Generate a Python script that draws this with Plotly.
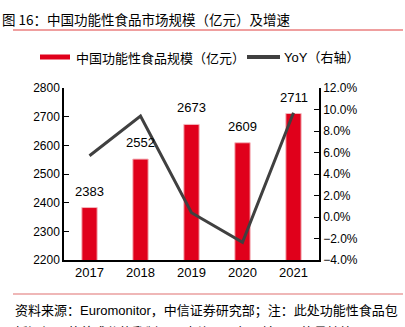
import plotly.graph_objects as go

years = ["2017", "2018", "2019", "2020", "2021"]
market_size = [2383, 2552, 2673, 2609, 2711]
yoy = [5.7, 9.4, 0.4, -2.35, 9.7]

title_text = "图 16：中国功能性食品市场规模（亿元）及增速"
legend_bar = "中国功能性食品规模（亿元）"
legend_line = "YoY（右轴）"
source_line1 = "资料来源：Euromonitor，中信证券研究部；注：此处功能性食品包"
source_line2 = "括添加了营养成分的乳制品、麦片、面包、糖果、能量棒等"

FONT = "Liberation Sans, Arial, Noto Sans CJK SC, sans-serif"
RED = "#E0001B"
GRAY = "#404040"

fig = go.Figure()
fig.add_trace(go.Bar(
    x=years, y=market_size, name=legend_bar,
    marker=dict(color=RED, line=dict(color="#F4B6BC", width=1)),
    width=0.3, yaxis="y",
))
fig.add_trace(go.Scatter(
    x=years, y=yoy, name=legend_line, mode="lines",
    line=dict(color=GRAY, width=3), yaxis="y2",
))

# bar value labels (x given as category index on the category axis)
for i, v in enumerate(market_size):
    fig.add_annotation(x=i, y=v, xref="x", yref="y", text=str(v),
                       showarrow=False, yanchor="bottom", yshift=7,
                       font=dict(size=13, color="#000", family=FONT))

fig.update_layout(
    width=405, height=327, autosize=False,
    margin=dict(l=64, r=86, t=88, b=67),
    paper_bgcolor="white", plot_bgcolor="white",
    showlegend=False,
    font=dict(family=FONT, size=12, color="#000"),
    bargap=0.7,
    xaxis=dict(type="category", showline=True, linecolor="#000", linewidth=1.5, ticks="",
               tickfont=dict(size=13), showgrid=False, zeroline=False),
    yaxis=dict(range=[2200, 2800], dtick=100, showline=True, linecolor="#000",
               linewidth=1.5, ticks="inside", ticklen=5, tickcolor="#000",
               showgrid=False, zeroline=False, tickfont=dict(size=12)),
    yaxis2=dict(range=[-4, 12], dtick=2, overlaying="y", side="right",
                showline=True, linecolor="#000", linewidth=1.5,
                ticks="inside", ticklen=5, tickcolor="#000",
                tickformat=".1f", ticksuffix="%", showgrid=False,
                zeroline=False, tickfont=dict(size=12)),
)

# title and separators
fig.add_annotation(text=title_text, xref="paper", yref="paper",
                   x=-64/255, y=1 + (88-19)/172, xanchor="left", yanchor="middle",
                   showarrow=False, font=dict(size=13.5, family="Noto Sans CJK SC, sans-serif", color="#000"))
fig.add_shape(type="line", xref="paper", yref="paper",
              x0=-51/255, x1=339/255, y0=1 + (88-30)/172, y1=1 + (88-30)/172,
              line=dict(color="#E04040", width=1.2))
fig.add_shape(type="line", xref="paper", yref="paper",
              x0=-51/255, x1=339/255, y0=-(294-260)/172, y1=-(294-260)/172,
              line=dict(color="#E07070", width=1.2))

# legend
ly = 1 + (88-57)/172
fig.add_shape(type="line", xref="paper", yref="paper",
              x0=(40-64)/255, x1=(70-64)/255, y0=ly, y1=ly,
              line=dict(color=RED, width=5))
fig.add_annotation(text=legend_bar, xref="paper", yref="paper",
                   x=(74-64)/255, y=ly, xanchor="left", yanchor="middle",
                   showarrow=False, font=dict(size=13, family="Noto Sans CJK SC, sans-serif"))
fig.add_shape(type="line", xref="paper", yref="paper",
              x0=(247-64)/255, x1=(280-64)/255, y0=ly, y1=ly,
              line=dict(color=GRAY, width=4))
fig.add_annotation(text=legend_line, xref="paper", yref="paper",
                   x=(282-64)/255, y=ly, xanchor="left", yanchor="middle",
                   showarrow=False, font=dict(size=13, family="Liberation Sans, Noto Sans CJK SC, sans-serif"))

# source
fig.add_annotation(text=source_line1, xref="paper", yref="paper",
                   x=-51/255, y=-(311-260)/172, xanchor="left", yanchor="middle",
                   showarrow=False, font=dict(size=13, family="Liberation Sans, Noto Sans CJK SC, sans-serif"))
fig.add_annotation(text=source_line2, xref="paper", yref="paper",
                   x=-51/255, y=-(331-260)/172, xanchor="left", yanchor="middle",
                   showarrow=False, font=dict(size=13, family="Noto Sans CJK SC, sans-serif"))

fig.write_html("out.html")
